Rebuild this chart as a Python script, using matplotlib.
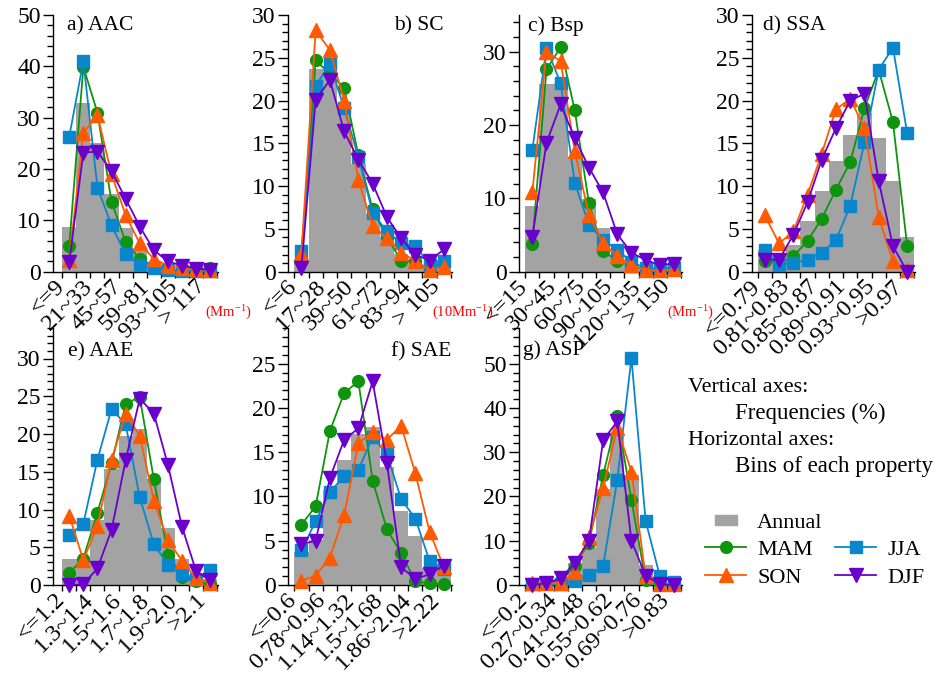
import numpy as np
import matplotlib
matplotlib.use('Agg')
import matplotlib.pyplot as plt
from matplotlib.lines import Line2D
from matplotlib.ticker import MultipleLocator

plt.rcParams['font.family'] = ['Liberation Serif', 'DejaVu Serif']
plt.rcParams['mathtext.default'] = 'regular'

# ---- data (frequencies in %, 11 bins per property) ----
aac_labels = ['<=9', '9~21', '21~33', '33~45', '45~57', '57~69', '59~81', '81~93', '93~105', '105~117', '> 117']
aac_annual = [8.8, 32.9, 25.0, 15.1, 8.6, 4.5, 1.6, 1.0, 0.6, 0.4, 0.8]
aac_mam = [5.0, 39.9, 31.0, 13.6, 5.8, 2.5, 1.0, 0.3, 0.2, 0.2, 0.8]
aac_jja = [26.3, 41.0, 16.4, 9.0, 3.4, 1.4, 0.8, 0.3, 0.1, 0.1, 0.1]
aac_son = [2.3, 27.0, 30.5, 19.0, 11.0, 5.5, 2.5, 1.2, 0.7, 0.5, 0.4]
aac_djf = [1.8, 23.2, 23.4, 19.6, 14.2, 8.8, 4.2, 2.0, 1.2, 0.6, 0.4]

sc_labels = ['<=6', '6~17', '17~28', '28~39', '39~50', '50~61', '61~72', '72~83', '83~94', '94~105', '> 105']
sc_annual = [1.5, 23.7, 24.0, 18.9, 12.6, 6.8, 4.1, 2.1, 1.4, 0.8, 1.4]
sc_mam = [1.5, 24.7, 23.1, 21.5, 13.6, 7.3, 4.0, 1.3, 1.2, 0.2, 1.2]
sc_jja = [2.4, 21.7, 24.3, 19.1, 13.4, 6.9, 4.7, 3.3, 3.0, 0.8, 1.3]
sc_son = [2.1, 28.2, 25.9, 20.0, 10.7, 5.3, 3.9, 2.2, 1.3, 0.2, 0.5]
sc_djf = [0.4, 20.1, 22.4, 16.4, 13.1, 10.3, 6.4, 3.9, 2.0, 1.3, 2.6]

bsp_labels = ['<=15', '15~30', '30~45', '45~60', '60~75', '75~90', '90~105', '105~120', '120~135', '135~150', '> 150']
bsp_annual = [8.9, 25.6, 25.7, 15.7, 9.9, 6.0, 2.3, 1.1, 0.7, 0.5, 0.6]
bsp_mam = [3.8, 27.6, 30.6, 22.0, 9.3, 2.8, 1.5, 0.8, 0.3, 0.2, 0.3]
bsp_jja = [16.6, 30.5, 25.7, 12.1, 6.4, 4.3, 3.0, 1.3, 0.5, 0.4, 0.5]
bsp_son = [10.8, 30.0, 28.7, 16.4, 7.7, 3.9, 2.1, 0.9, 0.2, 0.2, 0.3]
bsp_djf = [4.7, 17.6, 22.8, 18.2, 14.2, 10.8, 5.1, 2.6, 1.6, 0.9, 1.1]

ssa_labels = ['<=0.79', '0.79~0.81', '0.81~0.83', '0.83~0.85', '0.85~0.87', '0.87~0.89',
              '0.89~0.91', '0.91~0.93', '0.93~0.95', '0.95~0.97', '>0.97']
ssa_annual = [2.5, 1.8, 3.1, 5.9, 9.4, 12.9, 16.0, 18.5, 15.6, 10.6, 4.0]
ssa_mam = [1.3, 1.0, 1.8, 3.6, 6.2, 9.6, 12.8, 19.1, 23.6, 17.5, 3.0]
ssa_jja = [2.5, 0.8, 1.0, 1.4, 2.2, 3.7, 7.7, 15.1, 23.6, 26.2, 16.2]
ssa_son = [6.6, 3.3, 4.7, 9.0, 13.8, 19.0, 20.2, 16.8, 6.4, 1.2, 0.2]
ssa_djf = [1.4, 1.4, 4.3, 8.1, 13.1, 16.8, 20.0, 20.8, 10.6, 3.0, 0.0]

aae_labels = ['<=1.2', '1.2~1.3', '1.3~1.4', '1.4~1.5', '1.5~1.6', '1.6~1.7',
              '1.7~1.8', '1.8~1.9', '1.9~2.0', '2.0~2.1', '>2.1']
aae_annual = [3.5, 3.5, 8.6, 15.3, 19.7, 20.7, 14.0, 7.5, 3.5, 1.1, 0.8]
aae_mam = [1.6, 3.5, 9.6, 16.1, 24.0, 24.9, 14.0, 4.0, 1.1, 0.5, 0.1]
aae_jja = [6.6, 8.1, 16.6, 23.3, 21.3, 11.6, 5.4, 2.7, 1.5, 0.8, 2.0]
aae_son = [9.2, 3.3, 7.8, 16.6, 22.6, 19.8, 11.1, 5.9, 3.2, 0.9, 0.3]
aae_djf = [0.0, 0.1, 2.2, 7.3, 16.5, 24.7, 22.7, 15.9, 7.7, 1.8, 0.6]

sae_labels = ['<=0.6', '0.6~0.78', '0.78~0.96', '0.96~1.14', '1.14~1.32', '1.32~1.5',
              '1.5~1.68', '1.68~1.86', '1.86~2.04', '2.04~2.22', '>2.22']
sae_annual = [3.7, 5.1, 10.7, 14.1, 17.1, 17.9, 13.3, 8.4, 5.5, 1.9, 1.6]
sae_mam = [6.8, 8.9, 17.4, 21.7, 23.0, 11.8, 6.3, 3.6, 0.4, 0.2, 0.1]
sae_jja = [3.9, 7.2, 10.5, 12.3, 13.0, 16.7, 14.8, 9.7, 7.5, 2.7, 1.8]
sae_son = [0.5, 1.05, 3.1, 7.9, 16.0, 17.3, 16.4, 18.0, 12.6, 6.0, 2.0]
sae_djf = [4.6, 5.0, 12.1, 16.4, 17.7, 23.0, 13.8, 2.0, 0.7, 1.2, 2.2]

asp_labels = ['<=0.2', '0.2~0.27', '0.27~0.34', '0.34~0.41', '0.41~0.48', '0.48~0.55',
              '0.55~0.62', '0.62~0.69', '0.69~0.76', '0.76~0.83', '>0.83']
asp_annual = [0.2, 0.4, 0.9, 5.0, 8.4, 21.6, 34.0, 24.8, 4.6, 0.4, 0.2]
asp_mam = [0.2, 0.6, 0.8, 4.4, 9.5, 24.8, 38.1, 19.2, 1.1, 0.2, 0.1]
asp_jja = [0.2, 0.5, 0.2, 0.9, 2.3, 4.2, 23.8, 51.3, 14.5, 2.1, 0.6]
asp_son = [0.4, 0.4, 0.5, 2.9, 10.8, 21.9, 35.5, 25.6, 2.1, 0.3, 0.2]
asp_djf = [0.0, 0.4, 1.5, 5.0, 10.0, 32.7, 37.0, 10.0, 2.1, 0.2, 0.0]

GRAY = '#a3a3a3'
SEASONS = ['MAM', 'JJA', 'SON', 'DJF']
COLORS = {'MAM': '#0f940f', 'JJA': '#0a86cc', 'SON': '#ff5a00', 'DJF': '#6a00cc'}
MARKERS = {'MAM': 'o', 'JJA': 's', 'SON': '^', 'DJF': 'v'}
MSIZE = {'MAM': 8.5, 'JJA': 8.5, 'SON': 9.5, 'DJF': 9.5}
YTICK_FS = 17
XTICK_FS = 17.5

W, H = 940, 673
fig = plt.figure(figsize=(W / 100, H / 100), dpi=100)


def add_axes_px(left, right, top, bottom):
    return fig.add_axes([left / W, 1 - bottom / H, (right - left) / W, (bottom - top) / H])


col_px = [(53.3, 218), (288.3, 451.7), (519.3, 681.7), (751.7, 915)]
row_px = [(15, 271.7), (328.3, 585)]

# title, labels, annual, seasons, ymax, major, minor, row, col, title x, title y, title ha
panels = [
    ('a) AAC', aac_labels, aac_annual, [aac_mam, aac_jja, aac_son, aac_djf], 50, 10, 2, 0, 0, 0.083, 0.957, 'left'),
    ('b) SC', sc_labels, sc_annual, [sc_mam, sc_jja, sc_son, sc_djf], 30, 5, 1, 0, 1, 0.95, 0.957, 'right'),
    ('c) Bsp', bsp_labels, bsp_annual, [bsp_mam, bsp_jja, bsp_son, bsp_djf], 35, 10, 2, 0, 2, 0.054, 0.957, 'left'),
    ('d) SSA', ssa_labels, ssa_annual, [ssa_mam, ssa_jja, ssa_son, ssa_djf], 30, 5, 1, 0, 3, 0.069, 0.957, 'left'),
    ('e) AAE', aae_labels, aae_annual, [aae_mam, aae_jja, aae_son, aae_djf], 34, 5, 1, 1, 0, 0.09, 0.91, 'left'),
    ('f) SAE', sae_labels, sae_annual, [sae_mam, sae_jja, sae_son, sae_djf], 29, 5, 1, 1, 1, 1.0, 0.91, 'right'),
    ('g) ASP', asp_labels, asp_annual, [asp_mam, asp_jja, asp_son, asp_djf], 58, 10, 2, 1, 2, 0.02, 0.915, 'left'),
]

for title, labels, annual, seasons, ymax, major, minor, row, col, tx, ty, tha in panels:
    ax = add_axes_px(col_px[col][0], col_px[col][1], row_px[row][0], row_px[row][1])
    x = np.arange(len(labels))
    ax.bar(x, annual, width=1.0, color=GRAY, zorder=1)
    for name, vals in zip(SEASONS, seasons):
        ax.plot(x, vals, color=COLORS[name], marker=MARKERS[name], markersize=MSIZE[name],
                lw=1.3, markeredgecolor=COLORS[name], zorder=3, clip_on=False)

    pad = 0.63 if col == 0 else 0.42
    ax.set_xlim(-0.5 - pad, len(labels) - 0.45)
    ax.set_ylim(0, ymax)
    ax.yaxis.set_major_locator(MultipleLocator(major))
    ax.yaxis.set_minor_locator(MultipleLocator(minor))

    ax.set_xticks(np.arange(len(labels) + 1) - 0.5)
    ax.set_xticklabels([])
    ax.set_xticks(x[::2], minor=True)
    ax.set_xticklabels(labels[::2], minor=True, rotation=45, ha='right', fontsize=XTICK_FS)
    ax.tick_params(axis='x', which='major', length=4, width=1)
    ax.tick_params(axis='x', which='minor', length=0, pad=3)
    ax.tick_params(axis='y', which='major', length=7, width=1, labelsize=YTICK_FS, pad=2)
    ax.tick_params(axis='y', which='minor', length=4, width=1)

    for s in ['top', 'right']:
        ax.spines[s].set_visible(False)
    ax.spines['left'].set_linewidth(1)
    ax.spines['bottom'].set_linewidth(1)
    ax.patch.set_alpha(0)

    ax.text(tx, ty, title, transform=ax.transAxes, ha=tha, va='center', fontsize=15.5)

# unit notes under the first row
fig.text(205 / W, 1 - 313 / H, r'(Mm$^{-1}$)', color='red', fontsize=10.5, va='center')
fig.text(432 / W, 1 - 313 / H, r'(10Mm$^{-1}$)', color='red', fontsize=10.5, va='center')
fig.text(667 / W, 1 - 313 / H, r'(Mm$^{-1}$)', color='red', fontsize=10.5, va='center')

# axis explanation text
fig.text(688 / W, 1 - 392 / H, 'Vertical axes:', fontsize=16, va='baseline')
fig.text(735 / W, 1 - 419 / H, 'Frequencies (%)', fontsize=16.5, va='baseline')
fig.text(688 / W, 1 - 445 / H, 'Horizontal axes:', fontsize=16, va='baseline')
fig.text(735 / W, 1 - 472 / H, 'Bins of each property', fontsize=16.5, va='baseline')

# legend
rect = [(-1.1, -0.5), (1.1, -0.5), (1.1, 0.5), (-1.1, 0.5), (-1.1, -0.5)]
h_annual = Line2D([], [], ls='none', marker=rect, markersize=16, color=GRAY)
h_blank = Line2D([], [], ls='none', color='none')
h = {n: Line2D([], [], color=COLORS[n], marker=MARKERS[n], markersize=MSIZE[n], lw=1.3) for n in SEASONS}
fig.legend([h_annual, h['MAM'], h['SON'], h_blank, h['JJA'], h['DJF']],
           ['Annual', 'MAM', 'SON', '', 'JJA', 'DJF'],
           ncol=2, loc='upper left', bbox_to_anchor=(705 / W, 1 - 512 / H), frameon=False,
           fontsize=16, handlelength=1.85, handletextpad=0.5, columnspacing=0.55,
           labelspacing=0.32, borderaxespad=0, borderpad=0)

fig.savefig('out.png', dpi=100)
